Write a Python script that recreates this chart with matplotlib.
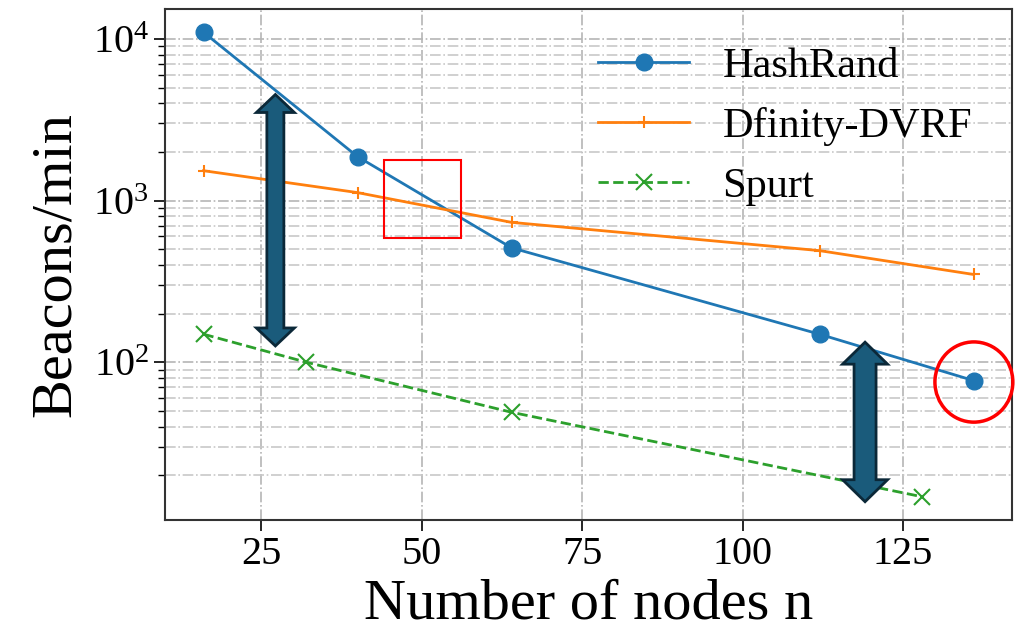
import matplotlib
matplotlib.use("Agg")
import matplotlib.pyplot as plt
from matplotlib.patches import Polygon, Rectangle, Ellipse
from matplotlib.transforms import IdentityTransform

plt.rcParams['font.family'] = ['Liberation Serif', 'DejaVu Serif']
plt.rcParams['mathtext.fontset'] = 'stix'

# Data
hash_x = [16, 40, 64, 112, 136]
hash_y = [11000, 1870, 510, 149, 77]
dfin_x = [16, 40, 64, 112, 136]
dfin_y = [1530, 1120, 733, 490, 349]
spurt_x = [16, 32, 64, 128]
spurt_y = [149, 100, 49, 14.7]
xticks = [25, 50, 75, 100, 125]

fig = plt.figure(figsize=(10.28, 6.34), dpi=100)
ax = fig.add_axes([165/1028, 1-520/634, (1012-165)/1028, (520-9)/634])

ax.plot(hash_x, hash_y, '-', color='#1f77b4', marker='o', markersize=12, lw=2, label='HashRand')
ax.plot(dfin_x, dfin_y, '-', color='#ff7f0e', marker='+', markersize=9, mew=1.5, lw=2, label='Dfinity-DVRF')
ax.plot(spurt_x, spurt_y, '--', color='#2ca02c', marker='x', markersize=11, mew=1.5, lw=2, label='Spurt')

ax.set_yscale('log')
ax.set_xticks(xticks)
ax.set_xticklabels([str(t) for t in xticks])
ax.grid(True, which='major', linestyle='-.', color='#b5b5b5', lw=1.2)
ax.grid(True, which='minor', axis='y', linestyle='-.', color='#c8c8c8', lw=1.2)
ax.set_axisbelow(True)

ax.tick_params(axis='both', which='major', labelsize=29, length=8, width=1.2, direction='out')
ax.tick_params(axis='y', which='minor', length=5, width=1.0)
for s in ax.spines.values():
    s.set_color('#333333')
    s.set_linewidth(1.5)

ax.set_xlabel('Number of nodes n', fontsize=42, labelpad=4)
ax.set_ylabel('Beacons/min', fontsize=42, labelpad=8)

ax.legend(loc='upper right', fontsize=30.5, frameon=False, handlelength=2.13,
          bbox_to_anchor=(0.998, 1.0), labelspacing=0.5, handletextpad=0.8)

# freeze limits
ax.autoscale_view()
ax.set_xlim(ax.get_xlim())
ax.set_ylim(ax.get_ylim())


def double_arrow(x, y0, y1, body, head_w, head_l):
    """Fat vertical double arrow; x,y in data, sizes in pixels."""
    (px, pb) = ax.transData.transform((x, y0))
    (_, pt) = ax.transData.transform((x, y1))
    b, hw, hl = body / 2, head_w / 2, head_l
    pts = [(px, pt), (px + hw, pt - hl), (px + b, pt - hl), (px + b, pb + hl),
           (px + hw, pb + hl), (px, pb), (px - hw, pb + hl), (px - b, pb + hl),
           (px - b, pt - hl), (px - hw, pt - hl)]
    poly = Polygon(pts, closed=True, transform=IdentityTransform(), facecolor='#1a5b7b',
                   edgecolor='#0b2838', lw=2, zorder=5, joinstyle='miter')
    fig.add_artist(poly)


double_arrow(27.2, 126, 4530, 17, 38, 18)
double_arrow(119.1, 13.7, 133, 22, 45, 22)

# red rectangle
ax.add_patch(Rectangle((44.1, 585), 12.0, 1775 - 585, fill=False, edgecolor='red', lw=1.5, zorder=6))
# red circle
ax.add_patch(Ellipse((0.955, 0.270), 0.092, 0.157, transform=ax.transAxes, fill=False,
                     edgecolor='red', lw=2.5, clip_on=False, zorder=6))

fig.savefig('out.png', dpi=100)
